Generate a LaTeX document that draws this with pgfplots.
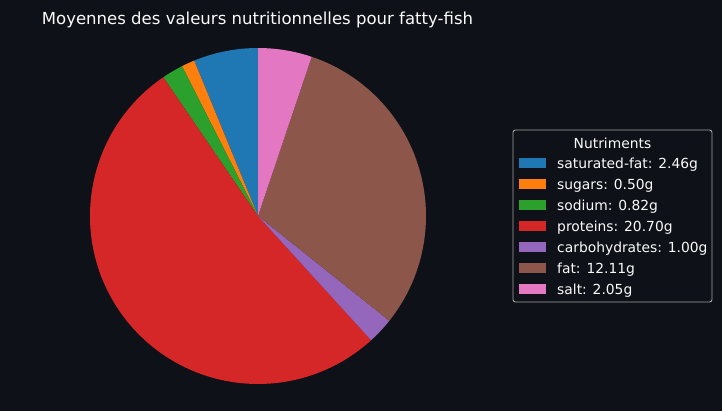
\documentclass[border=0pt]{standalone}
\usepackage{pgfplots}
\usepackage{pgfplotstable}
\pgfplotsset{compat=1.18}
\usepackage{fontspec}
\setmainfont{DejaVu Sans}

\definecolor{bgdark}{HTML}{0E1117}
\definecolor{fgtext}{HTML}{FAFAFA}
\definecolor{legedge}{HTML}{A3A3A3}
\definecolor{pc0}{HTML}{1F77B4}
\definecolor{pc1}{HTML}{FF7F0E}
\definecolor{pc2}{HTML}{2CA02C}
\definecolor{pc3}{HTML}{D62728}
\definecolor{pc4}{HTML}{9467BD}
\definecolor{pc5}{HTML}{8C564B}
\definecolor{pc6}{HTML}{E377C2}

\pgfplotstableread{
name value
saturated-fat 2.46
sugars 0.50
sodium 0.82
proteins 20.70
carbohydrates 1.00
fat 12.11
salt 2.05
}\nutri

\begin{document}
\begin{tikzpicture}
% total and cumulative angles (start at 90 deg, counter-clockwise)
\xdef\total{0}
\pgfplotsforeachungrouped \i in {0,...,6}{%
  \pgfplotstablegetelem{\i}{value}\of\nutri
  \pgfmathsetmacro{\tmp}{\total+\pgfplotsretval}%
  \xdef\total{\tmp}%
}
\xdef\cum{90}
\pgfplotsforeachungrouped \i in {0,...,6}{%
  \pgfplotstablegetelem{\i}{value}\of\nutri
  \expandafter\xdef\csname vl\i\endcsname{\pgfplotsretval}%
  \pgfmathsetmacro{\nxt}{\cum+360*\pgfplotsretval/\total}%
  \expandafter\xdef\csname sa\i\endcsname{\cum}%
  \expandafter\xdef\csname ea\i\endcsname{\nxt}%
  \xdef\cum{\nxt}%
  \pgfplotstablegetelem{\i}{name}\of\nutri
  \expandafter\xdef\csname nm\i\endcsname{\pgfplotsretval}%
  \pgfmathsetmacro{\tmp}{248-21*\i}%
  \expandafter\xdef\csname py\i\endcsname{\tmp}%
  \pgfmathsetmacro{\tmp}{242.5-21*\i}%
  \expandafter\xdef\csname ty\i\endcsname{\tmp}%
}
\begin{axis}[
    x=1bp, y=1bp,
    xmin=0, xmax=722, ymin=0, ymax=411,
    hide axis,
    clip=false,
]
\fill[bgdark] (axis cs:0,0) rectangle (axis cs:722,411);

% pie wedges
\pgfplotsinvokeforeach{0,...,6}{
  \fill[pc#1] (axis cs:258,195) -- +(\csname sa#1\endcsname:168bp)
    arc[start angle=\csname sa#1\endcsname, end angle=\csname ea#1\endcsname, radius=168bp] -- cycle;
}

% title
\node[anchor=base, inner sep=0, text=fgtext, font=\fontsize{16.6}{20}\selectfont]
  at (axis cs:257.5,386.5) {Moyennes des valeurs nutritionnelles pour fatty-fish};

% legend
\draw[legedge, fill=bgdark, rounded corners=2.5bp, line width=0.9bp]
  (axis cs:513,109) rectangle (axis cs:712,281);
\node[anchor=base, inner sep=0, text=fgtext, font=\fontsize{13.9}{16}\selectfont]
  at (axis cs:612.5,262.7) {Nutriments};
\pgfplotsinvokeforeach{0,...,6}{
  \fill[pc#1] (axis cs:519,{\csname py#1\endcsname-4.7}) rectangle (axis cs:546,{\csname py#1\endcsname+4.7});
  \node[anchor=base west, inner sep=0, text=fgtext, font=\fontsize{13.9}{16}\selectfont]
    at (axis cs:557,\csname ty#1\endcsname) {\csname nm#1\endcsname: \csname vl#1\endcsname g};
}
\end{axis}
\end{tikzpicture}
\end{document}
